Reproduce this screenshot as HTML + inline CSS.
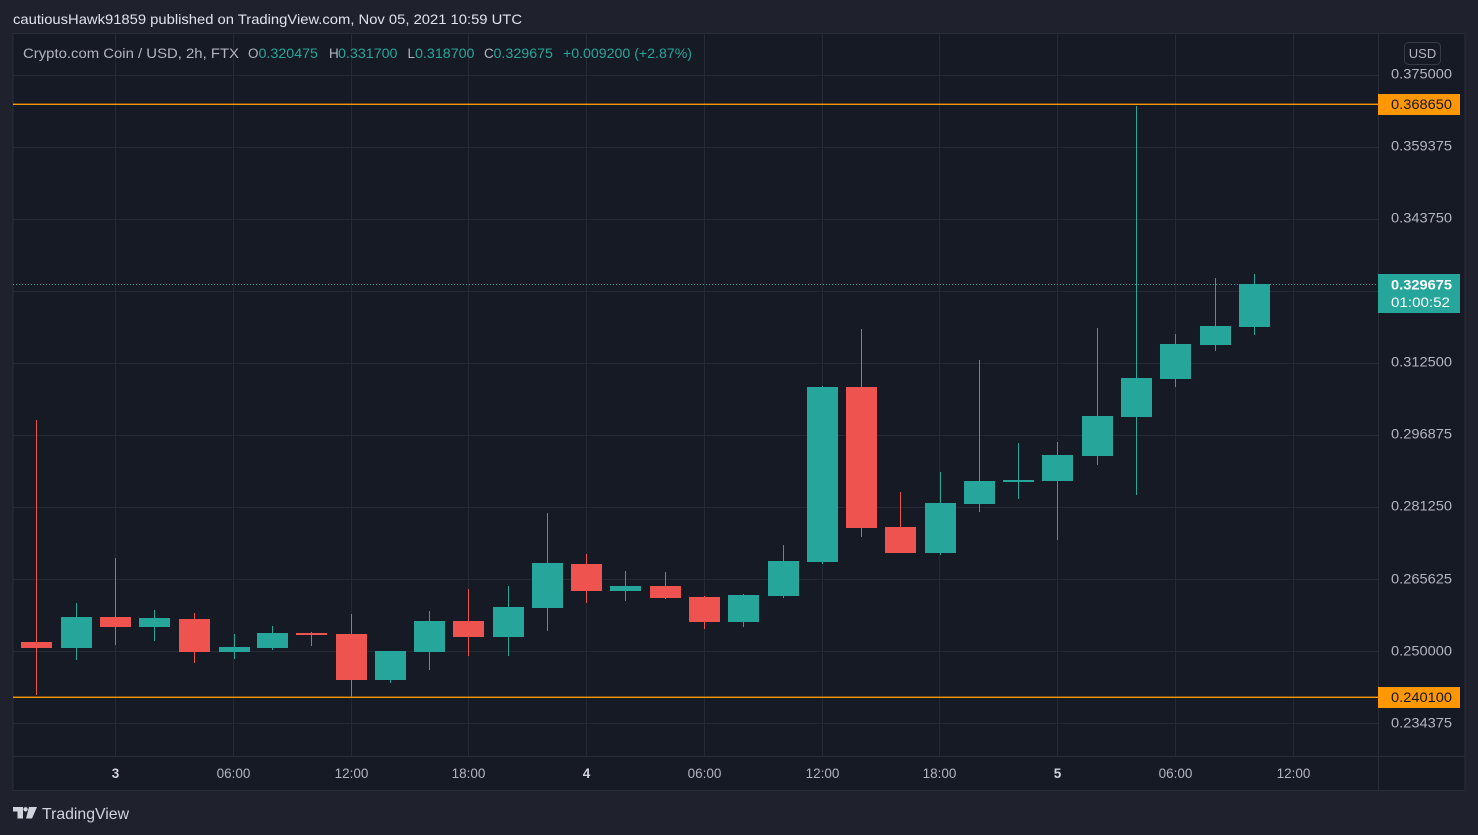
<!DOCTYPE html>
<html><head><meta charset="utf-8"><style>
html,body{margin:0;padding:0;background:#1f222c;}
svg{display:block;}
text{font-family:"Liberation Sans",sans-serif;}
</style></head><body>
<svg width="1478" height="835" viewBox="0 0 1478 835" xmlns="http://www.w3.org/2000/svg">
<rect x="0" y="0" width="1478" height="835" fill="#1f222c"/>
<text x="13" y="24" font-size="14" fill="#e0e3eb" textLength="509" lengthAdjust="spacingAndGlyphs">cautiousHawk91859 published on TradingView.com, Nov 05, 2021 10:59 UTC</text>
<rect x="13" y="33.5" width="1452" height="757" fill="#161a25" stroke="#2a2e39" stroke-width="1"/>
<g stroke="#252935" stroke-width="1" shape-rendering="crispEdges">
<line x1="13" x2="1378" y1="75.5" y2="75.5"/><line x1="13" x2="1378" y1="147.5" y2="147.5"/><line x1="13" x2="1378" y1="219.5" y2="219.5"/><line x1="13" x2="1378" y1="291.5" y2="291.5"/><line x1="13" x2="1378" y1="363.5" y2="363.5"/><line x1="13" x2="1378" y1="435.5" y2="435.5"/><line x1="13" x2="1378" y1="507.5" y2="507.5"/><line x1="13" x2="1378" y1="579.5" y2="579.5"/><line x1="13" x2="1378" y1="651.5" y2="651.5"/><line x1="13" x2="1378" y1="723.5" y2="723.5"/>
<line y1="34" y2="756" x1="115.5" x2="115.5"/><line y1="34" y2="756" x1="233.5" x2="233.5"/><line y1="34" y2="756" x1="351.5" x2="351.5"/><line y1="34" y2="756" x1="468.5" x2="468.5"/><line y1="34" y2="756" x1="586.5" x2="586.5"/><line y1="34" y2="756" x1="704.5" x2="704.5"/><line y1="34" y2="756" x1="822.5" x2="822.5"/><line y1="34" y2="756" x1="939.5" x2="939.5"/><line y1="34" y2="756" x1="1057.5" x2="1057.5"/><line y1="34" y2="756" x1="1175.5" x2="1175.5"/><line y1="34" y2="756" x1="1293.5" x2="1293.5"/>
</g>
<g stroke="#2a2e39" stroke-width="1" shape-rendering="crispEdges">
<line x1="13" x2="1465" y1="756.5" y2="756.5"/>
<line x1="1378.5" x2="1378.5" y1="34" y2="791"/>
</g>
<!-- legend -->
<g font-size="13.5">
<text x="23" y="58" fill="#b2b5be" textLength="216" lengthAdjust="spacingAndGlyphs">Crypto.com Coin / USD, 2h, FTX</text>
<text x="248" y="58" fill="#b2b5be">O</text><text x="258.5" y="58" fill="#26a69a" textLength="59.5" lengthAdjust="spacingAndGlyphs">0.320475</text>
<text x="329" y="58" fill="#b2b5be">H</text><text x="338" y="58" fill="#26a69a" textLength="59.5" lengthAdjust="spacingAndGlyphs">0.331700</text>
<text x="407.5" y="58" fill="#b2b5be">L</text><text x="415" y="58" fill="#26a69a" textLength="59.5" lengthAdjust="spacingAndGlyphs">0.318700</text>
<text x="484" y="58" fill="#b2b5be">C</text><text x="493.5" y="58" fill="#26a69a" textLength="59.5" lengthAdjust="spacingAndGlyphs">0.329675</text>
<text x="563" y="58" fill="#26a69a" textLength="129" lengthAdjust="spacingAndGlyphs">+0.009200 (+2.87%)</text>
</g>
<!-- horizontal lines -->
<rect x="13" y="103.6" width="1365" height="1.4" fill="#ff9800"/>
<rect x="13" y="696.6" width="1365" height="1.4" fill="#ff9800"/>
<line x1="13" x2="1378" y1="284.5" y2="284.5" stroke="#26a69a" stroke-width="1" stroke-dasharray="1,2"/>
<!-- candles -->
<g id="candles" shape-rendering="crispEdges"></g>
<!-- price axis -->
<rect x="1404.5" y="42.5" width="36" height="22" rx="4" fill="none" stroke="#363a45"/>
<text x="1422.5" y="58" font-size="13" fill="#b2b5be" text-anchor="middle">USD</text>
<g font-size="13.5" fill="#b2b5be">
<text x="1391" y="78.5" textLength="61" lengthAdjust="spacingAndGlyphs">0.375000</text>
<text x="1391" y="150.5" textLength="61" lengthAdjust="spacingAndGlyphs">0.359375</text>
<text x="1391" y="222.5" textLength="61" lengthAdjust="spacingAndGlyphs">0.343750</text>
<text x="1391" y="366.5" textLength="61" lengthAdjust="spacingAndGlyphs">0.312500</text>
<text x="1391" y="438.5" textLength="61" lengthAdjust="spacingAndGlyphs">0.296875</text>
<text x="1391" y="510.5" textLength="61" lengthAdjust="spacingAndGlyphs">0.281250</text>
<text x="1391" y="583.5" textLength="61" lengthAdjust="spacingAndGlyphs">0.265625</text>
<text x="1391" y="655.5" textLength="61" lengthAdjust="spacingAndGlyphs">0.250000</text>
<text x="1391" y="727.5" textLength="61" lengthAdjust="spacingAndGlyphs">0.234375</text>
</g>
<rect x="1378" y="94" width="82" height="21" fill="#ff9800"/>
<text x="1391" y="109" font-size="13.5" fill="#131722" textLength="61" lengthAdjust="spacingAndGlyphs">0.368650</text>
<rect x="1378" y="687" width="82" height="21" fill="#ff9800"/>
<text x="1391" y="702" font-size="13.5" fill="#131722" textLength="61" lengthAdjust="spacingAndGlyphs">0.240100</text>
<rect x="1378" y="274" width="82" height="39" fill="#26a69a"/>
<text x="1391" y="289.5" font-size="13.5" font-weight="bold" fill="#ffffff" textLength="61" lengthAdjust="spacingAndGlyphs">0.329675</text>
<text x="1391" y="307" font-size="13.5" fill="#ffffff" textLength="59" lengthAdjust="spacingAndGlyphs">01:00:52</text>
<!-- time axis -->
<g font-size="13.5" fill="#b2b5be" text-anchor="middle">
<text x="115.5" y="778" fill="#d1d4dc" font-weight="bold">3</text>
<text x="233.5" y="778">06:00</text>
<text x="351.5" y="778">12:00</text>
<text x="468.5" y="778">18:00</text>
<text x="586.5" y="778" fill="#d1d4dc" font-weight="bold">4</text>
<text x="704.5" y="778">06:00</text>
<text x="822.5" y="778">12:00</text>
<text x="939.5" y="778">18:00</text>
<text x="1057.5" y="778" fill="#d1d4dc" font-weight="bold">5</text>
<text x="1175.5" y="778">06:00</text>
<text x="1293.5" y="778">12:00</text>
</g>
<!-- footer -->
<g fill="#d1d4dc">
<rect x="13" y="807" width="10" height="4.5"/>
<rect x="17.5" y="807" width="5.5" height="11.5"/>
<circle cx="25.6" cy="809.3" r="2.2"/>
<polygon points="29,807 37,807 32,818.5 26,818.5"/>
<text x="42" y="819" font-size="16" textLength="87" lengthAdjust="spacingAndGlyphs">TradingView</text>
</g>
</svg>
<script>
(function(){
var d=[
[420,642,648,695,0],[603,617,648,660,1],[558,617,627,645,0],[610,618,627,641,1],
[613,619,652,663,0],[634,647,652,659,1],[626,633,648,650,1],[632,633,635,646,0],
[614,634,680,697,0],[651,651,680,683,1],[611,621,652,670,1],[589,621,637,656,0],
[586,607,637,656,1],[513,563,608,631,1],[554,564,591,603,0],[571,586,591,601,1],
[572,586,598,599,0],[596,597,622,629,0],[594,595,622,627,1],[545,561,596,598,1],
[386,387,562,564,1],[329,387,528,537,0],[492,527,553,553,0],[472,503,553,555,1],
[360,481,504,512,1],[443,480,482,499,1],[442,455,481,540,1],[328,416,456,465,1],
[106,378,417,495,1],[334,344,379,387,1],[278,326,345,351,1],[274,284,327,335,1]];
var g=document.getElementById('candles'),s='';
for(var i=0;i<d.length;i++){
 var c=d[i],col=c[4]?'#26a69a':'#ef5350',cx=Math.floor(36.9+39.27*i)+0.5;
 if(i==4||i==5)cx=Math.floor(36.9+39.27*i)+1.5;
 s+='<rect x="'+(cx-0.5)+'" y="'+c[0]+'" width="1" height="'+Math.max(1,c[3]-c[0])+'" fill="'+col+'"/>';
 s+='<rect x="'+(cx-15.5)+'" y="'+c[1]+'" width="31" height="'+Math.max(1,c[2]-c[1])+'" fill="'+col+'"/>';
}
g.innerHTML=s;
})();
</script>
</body></html>
